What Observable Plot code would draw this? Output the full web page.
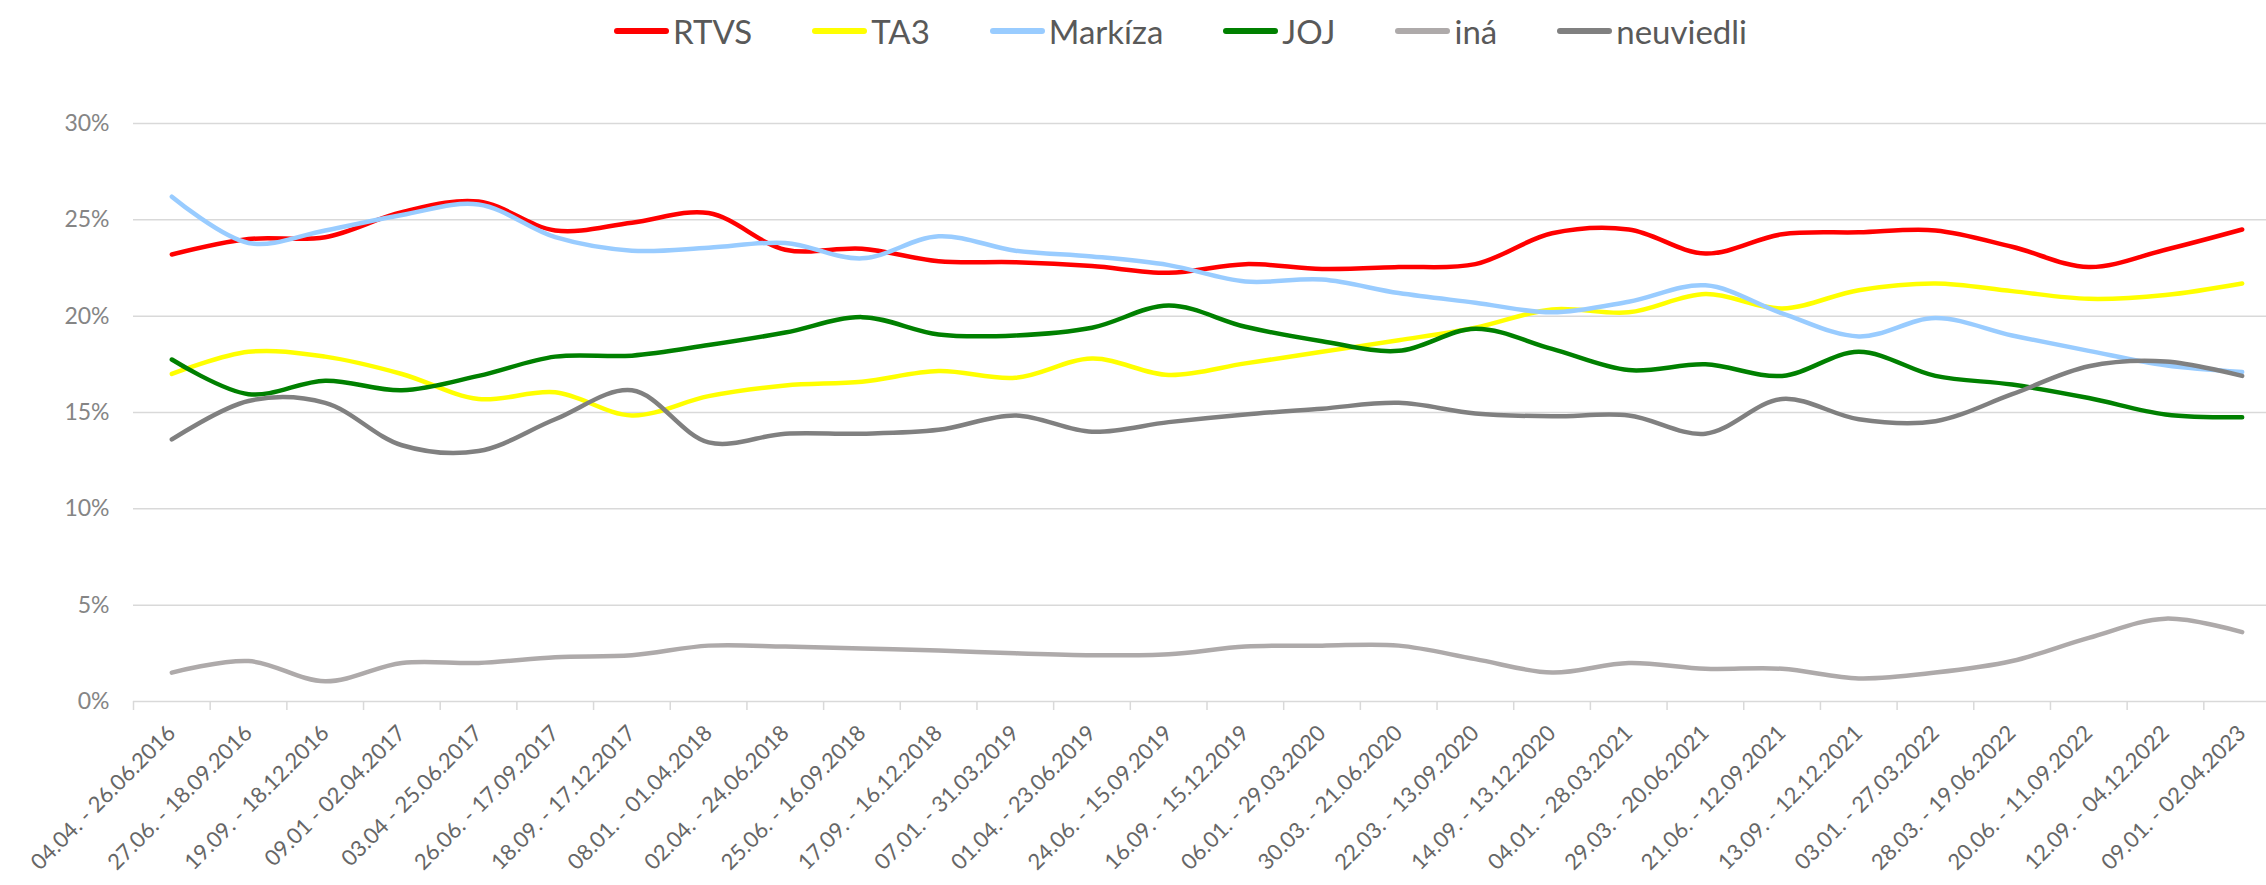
<!DOCTYPE html>
<html>
<head>
<meta charset="utf-8">
<script src="https://cdn.jsdelivr.net/npm/d3@7"></script>
<script src="https://cdn.jsdelivr.net/npm/@observablehq/plot@0.6"></script>
<style>
  html, body { margin: 0; padding: 0; background: #fff; overflow: hidden; width: 2266px; height: 885px; }
  body { font-family: Lato, "Noto Sans", sans-serif; }
  #legend { position: relative; height: 60px; width: 2266px; }
  #legend .items { position: absolute; left: 614px; top: 12px; display: flex; align-items: center; }
  #legend .item { display: flex; align-items: center; margin-right: 60px; }
  #legend .sw { width: 55px; height: 6px; border-radius: 3px; margin-right: 4px; }
  #legend .lb { font-size: 33px; color: #595959; line-height: 38px; }
  #chart svg { max-width: none !important; display: block; }
</style>
</head>
<body>
<div id="legend"><div class="items"></div></div>
<div id="chart"></div>
<script>
const categories = [
  "04.04. - 26.06.2016", "27.06. - 18.09.2016", "19.09. - 18.12.2016", "09.01 - 02.04.2017",
  "03.04 - 25.06.2017", "26.06. - 17.09.2017", "18.09. - 17.12.2017", "08.01. - 01.04.2018",
  "02.04. - 24.06.2018", "25.06. - 16.09.2018", "17.09. - 16.12.2018", "07.01. - 31.03.2019",
  "01.04. - 23.06.2019", "24.06. - 15.09.2019", "16.09. - 15.12.2019", "06.01. - 29.03.2020",
  "30.03. - 21.06.2020", "22.03. - 13.09.2020", "14.09. - 13.12.2020", "04.01. - 28.03.2021",
  "29.03. - 20.06.2021", "21.06. - 12.09.2021", "13.09. - 12.12.2021", "03.01. - 27.03.2022",
  "28.03. - 19.06.2022", "20.06. - 11.09.2022", "12.09. - 04.12.2022", "09.01. - 02.04.2023"
];

const RTVS = [23.2, 24.0, 24.1, 25.4, 25.95, 24.45, 24.85, 25.35, 23.45, 23.5, 22.85, 22.8, 22.6, 22.25,
  22.7, 22.45, 22.55, 22.7, 24.3, 24.5, 23.25, 24.25, 24.35, 24.45, 23.6, 22.55, 23.45, 24.5];
const TA3 = [17.0, 18.15, 17.9, 17.0, 15.7, 16.05, 14.85, 15.85, 16.4, 16.6, 17.15, 16.8, 17.8, 16.95,
  17.55, 18.15, 18.75, 19.4, 20.35, 20.2, 21.15, 20.4, 21.35, 21.7, 21.3, 20.9, 21.1, 21.7];
const Markiza = [26.2, 23.8, 24.45, 25.25, 25.8, 24.1, 23.4, 23.55, 23.8, 23.0, 24.15, 23.4, 23.1, 22.65,
  21.8, 21.9, 21.2, 20.7, 20.2, 20.75, 21.6, 20.15, 18.95, 19.9, 19.0, 18.2, 17.45, 17.1];
const JOJ = [17.75, 15.95, 16.65, 16.15, 16.9, 17.9, 17.95, 18.5, 19.15, 19.95, 19.05, 19.0, 19.4, 20.55,
  19.45, 18.7, 18.2, 19.35, 18.3, 17.2, 17.5, 16.9, 18.15, 16.9, 16.45, 15.75, 14.9, 14.75];
const ina = [1.5, 2.1, 1.05, 2.0, 2.0, 2.3, 2.4, 2.9, 2.85, 2.75, 2.65, 2.5, 2.4, 2.45,
  2.85, 2.9, 2.9, 2.2, 1.5, 2.0, 1.7, 1.7, 1.2, 1.5, 2.1, 3.3, 4.3, 3.6];
const neuviedli = [13.6, 15.6, 15.5, 13.3, 13.0, 14.65, 16.15, 13.45, 13.9, 13.9, 14.1, 14.85, 14.0, 14.5,
  14.9, 15.2, 15.5, 14.95, 14.8, 14.85, 13.9, 15.7, 14.65, 14.55, 15.95, 17.4, 17.65, 16.9];

const seriesNames = ["RTVS", "TA3", "Markíza", "JOJ", "iná", "neuviedli"];
const seriesValues = [RTVS, TA3, Markiza, JOJ, ina, neuviedli];
const seriesColors = ["#ff0000", "#ffff00", "#99ccff", "#008000", "#aeaaaa", "#808080"];
const yTicks = [0, 5, 10, 15, 20, 25, 30];

const data = seriesNames.flatMap((s, k) => seriesValues[k].map((v, i) => ({series: s, i, v})));
const indices = categories.map((_, i) => i);
const boundaries = d3.range(-0.5, categories.length, 1);

// legend
const items = document.querySelector("#legend .items");
seriesNames.forEach((s, k) => {
  const it = document.createElement("div");
  it.className = "item";
  const sw = document.createElement("div");
  sw.className = "sw";
  sw.style.background = seriesColors[k];
  const lb = document.createElement("span");
  lb.className = "lb";
  lb.textContent = s;
  it.appendChild(sw); it.appendChild(lb);
  items.appendChild(it);
});

const chart = Plot.plot({
  width: 2280,
  height: 825,
  marginLeft: 133,
  marginRight: 0,
  marginTop: 63,
  marginBottom: 184,
  style: {fontFamily: "Lato, 'Noto Sans', sans-serif", background: "#fff", overflow: "visible", maxWidth: "none"},
  x: {domain: [-0.5, categories.length - 0.5], axis: null},
  y: {domain: [0, 30], axis: null},
  color: {domain: seriesNames, range: seriesColors},
  marks: [
    Plot.ruleY(yTicks, {stroke: "#d9d9d9", strokeWidth: 1.5}),
    Plot.axisY(yTicks, {label: null, tickSize: 0, tickPadding: 24, tickFormat: d => d + "%", fontSize: 23, fill: "#858585"}),
    Plot.axisX(boundaries, {label: null, tickSize: 9, tickFormat: () => "", stroke: "#d9d9d9", strokeWidth: 1.5, strokeOpacity: 1}),
    Plot.axisX(indices, {label: null, tickSize: 0, tickPadding: 28, tickRotate: -45, tickFormat: i => categories[i], fontSize: 22, fill: "#666"}),
    Plot.line(data, {x: "i", y: "v", z: "series", stroke: "series", strokeWidth: 4.5, curve: "catmull-rom", strokeLinecap: "round", strokeLinejoin: "round"})
  ]
});
document.getElementById("chart").appendChild(chart);
</script>
</body>
</html>
